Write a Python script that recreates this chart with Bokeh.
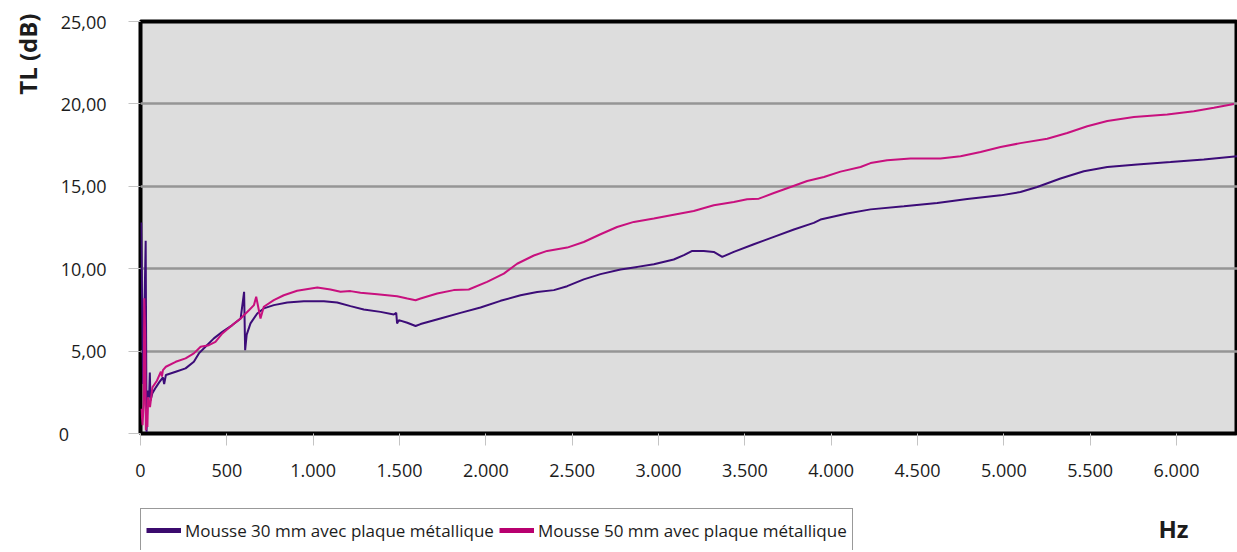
from bokeh.plotting import figure
from bokeh.models import (Range1d, FixedTicker, Label, Legend, LegendItem,
                          ColumnDataSource, Title)
from bokeh.layouts import column
from bokeh.embed import file_html
from bokeh.resources import INLINE

# ---------------- data ----------------
freq_30 = [4, 15, 30, 35, 42, 50, 54, 58, 69, 89, 108, 130, 137, 147, 204, 261,
           309, 338, 376, 425, 474, 532, 580, 600, 606, 615, 637, 676, 714, 772,
           850, 946, 1062, 1139, 1216, 1293, 1390, 1467, 1481, 1486, 1496, 1545,
           1593, 1622, 1737, 1853, 1969, 2085, 2201, 2297, 2394, 2471, 2567,
           2664, 2780, 2877, 2973, 3088, 3147, 3195, 3262, 3320, 3369, 3436,
           3552, 3668, 3784, 3899, 3938, 4093, 4228, 4421, 4614, 4788, 4981,
           5096, 5193, 5328, 5463, 5599, 5772, 5965, 6158, 6351]
tl_30 = [12.8, 3.0, 11.7, 0.1, 2.6, 2.2, 3.7, 2.0, 2.45, 2.8, 3.1, 3.4, 3.0,
         3.55, 3.75, 3.95, 4.35, 4.86, 5.26, 5.77, 6.17, 6.58, 6.98, 8.6, 5.06,
         6.0, 6.68, 7.28, 7.59, 7.79, 7.95, 8.03, 8.03, 7.95, 7.73, 7.53, 7.38,
         7.22, 7.32, 6.68, 6.88, 6.72, 6.52, 6.64, 6.98, 7.32, 7.65, 8.05, 8.39,
         8.59, 8.7, 8.94, 9.35, 9.67, 9.95, 10.11, 10.27, 10.56, 10.82, 11.08,
         11.08, 11.02, 10.72, 11.02, 11.48, 11.93, 12.38, 12.78, 12.98, 13.35,
         13.6, 13.79, 13.99, 14.23, 14.45, 14.65, 14.96, 15.47, 15.91, 16.17,
         16.33, 16.47, 16.62, 16.82]

freq_50 = [5, 12, 18, 22, 27, 31, 36, 40, 44, 55, 69, 95, 118, 124, 130, 147,
           204, 261, 309, 348, 396, 434, 474, 532, 580, 628, 657, 670, 695, 714,
           772, 830, 907, 1024, 1100, 1158, 1216, 1274, 1371, 1486, 1545, 1593,
           1622, 1718, 1814, 1901, 2007, 2104, 2181, 2278, 2355, 2471, 2567,
           2664, 2760, 2857, 2973, 3088, 3204, 3320, 3436, 3513, 3581, 3668,
           3765, 3861, 3958, 4054, 4170, 4228, 4324, 4459, 4633, 4749, 4865,
           4981, 5096, 5251, 5367, 5483, 5599, 5753, 5946, 6100, 6216, 6332]
tl_50 = [1.5, 0.5, 1.8, 8.2, 6.0, 0.2, 1.5, 0.4, 2.2, 1.6, 2.8, 3.2, 3.75,
         3.45, 3.85, 4.05, 4.35, 4.56, 4.86, 5.26, 5.36, 5.56, 6.07, 6.58, 6.98,
         7.48, 7.79, 8.3, 6.98, 7.69, 8.09, 8.39, 8.66, 8.86, 8.74, 8.6, 8.64,
         8.54, 8.45, 8.33, 8.19, 8.09, 8.19, 8.5, 8.7, 8.74, 9.2, 9.7, 10.3,
         10.8, 11.08, 11.28, 11.62, 12.09, 12.53, 12.84, 13.04, 13.28, 13.5,
         13.85, 14.05, 14.21, 14.25, 14.59, 14.96, 15.32, 15.56, 15.89, 16.17,
         16.41, 16.58, 16.68, 16.68, 16.82, 17.08, 17.38, 17.62, 17.89, 18.23,
         18.64, 18.96, 19.2, 19.36, 19.56, 19.77, 20.0]

series_names = ["Mousse 30 mm avec plaque métallique",
                "Mousse 50 mm avec plaque métallique"]

x_ticks = [0, 500, 1000, 1500, 2000, 2500, 3000, 3500, 4000, 4500, 5000,
           5500, 6000]
x_tick_labels = ["0", "500", "1.000", "1.500", "2.000", "2.500", "3.000",
                 "3.500", "4.000", "4.500", "5.000", "5.500", "6.000"]
y_ticks = [0, 5, 10, 15, 20, 25]
y_tick_labels = ["0", "5,00", "10,00", "15,00", "20,00", "25,00"]

y_title = "TL (dB)"
x_title = "Hz"

# ---------------- styling ----------------
FONT = "Open Sans"
C30 = "#3c0c78"
C50 = "#c8107e"
TXT = "#1c1c1c"

p = figure(width=1237, height=500, output_backend="svg", toolbar_location=None,
           x_range=Range1d(0, 6353), y_range=Range1d(0, 25),
           min_border_left=140, min_border_right=0, min_border_top=21,
           min_border_bottom=67)
p.background_fill_color = "#dddddd"
p.border_fill_color = "white"
p.outline_line_color = "black"
p.outline_line_width = 4

p.line(freq_30, tl_30, line_color=C30, line_width=2)
p.line(freq_50, tl_50, line_color=C50, line_width=2)

# axes
xa = p.xaxis[0]
xa.ticker = FixedTicker(ticks=x_ticks)
xa.major_label_overrides = {t: l for t, l in zip(x_ticks, x_tick_labels)}
xa.axis_line_color = None
xa.major_tick_in = 0
xa.major_tick_out = 12
xa.major_tick_line_color = "#c4c4c4"
xa.minor_tick_line_color = None
xa.major_label_standoff = 18
xa.major_label_text_font = FONT
xa.major_label_text_font_size = "18px"
xa.major_label_text_color = TXT

ya = p.yaxis[0]
ya.ticker = FixedTicker(ticks=y_ticks)
overr = {t: l for t, l in zip(y_ticks, y_tick_labels)}
overr[0] = y_tick_labels[0] + "\u00a0" * 8   # zero sits at the left, as in the original
ya.major_label_overrides = overr
ya.axis_line_color = None
ya.major_tick_in = 0
ya.major_tick_out = 12
ya.major_tick_line_color = "#c4c4c4"
ya.minor_tick_line_color = None
ya.major_label_standoff = 22
ya.major_label_text_font = FONT
ya.major_label_text_font_size = "18px"
ya.major_label_text_color = TXT

p.xgrid.visible = False
p.ygrid.ticker = FixedTicker(ticks=[5, 10, 15, 20])
p.ygrid.grid_line_color = "#959595"
p.ygrid.grid_line_width = 2.5

# y title at the top of the left side
p.add_layout(Title(text=y_title, align="right", vertical_align="top", offset=-8,
                   standoff=19, text_font=FONT, text_font_size="24px",
                   text_font_style="bold", text_color=TXT), "left")

# ---------------- legend strip ----------------
q = figure(width=1237, height=50, output_backend="svg", toolbar_location=None,
           x_range=Range1d(0, 1), y_range=Range1d(0, 1),
           x_axis_location=None, y_axis_location=None,
           min_border_left=140, min_border_right=0, min_border_top=0,
           min_border_bottom=0)
q.outline_line_color = None
q.background_fill_color = "white"
q.border_fill_color = "white"
for g in q.grid:
    g.visible = False

nan = float("nan")
s30 = q.line("x", "y", source=ColumnDataSource(dict(x=[nan], y=[nan])),
             line_color="#3b0a6e", line_width=5)
s50 = q.line("x", "y", source=ColumnDataSource(dict(x=[nan], y=[nan])),
             line_color="#b8006f", line_width=5)

legend = Legend(items=[LegendItem(label=series_names[0], renderers=[s30]),
                       LegendItem(label=series_names[1], renderers=[s50])],
                orientation="horizontal", location=(0, -2), margin=0,
                padding=5, spacing=5, label_standoff=4, glyph_width=35,
                glyph_height=32, label_height=32,
                label_text_font=FONT, label_text_font_size="17px",
                label_text_color=TXT, border_line_color="#333333",
                border_line_width=1, background_fill_color="white",
                background_fill_alpha=1)
q.add_layout(legend, "center")

q.add_layout(Label(x=1018, y=22, x_units="screen", y_units="screen", text=x_title,
                   text_font=FONT, text_font_size="24px", text_font_style="bold",
                   text_color=TXT, text_align="left", text_baseline="alphabetic"))

layout = column(p, q, spacing=0)
open("out.html", "w").write(file_html(layout, INLINE))
